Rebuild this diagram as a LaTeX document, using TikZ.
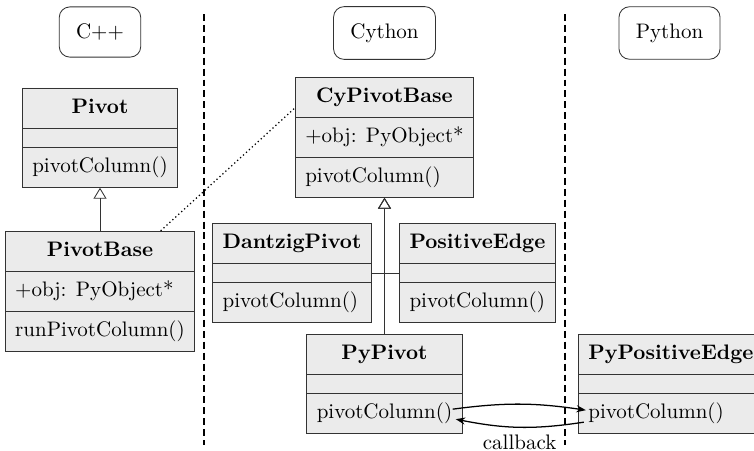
\documentclass[tikz,border=0pt]{standalone}
\usepackage{tikz}
\usetikzlibrary{arrows.meta, positioning, shapes.multipart, calc}
\definecolor{classfill}{HTML}{EBEBEB}
\definecolor{classborder}{HTML}{333333}
\newcommand{\rowstrut}{\rule[-2.5pt]{0pt}{10pt}}
\newcommand{\norow}{\rule{1pt}{0pt}}

\begin{document}
\begin{tikzpicture}[x=0.476pt, y=-0.476pt,
		langbox/.style={draw=classborder, rounded corners=5pt, inner sep=8pt},
		umlclass/.style={draw=classborder, fill=classfill,
			rectangle split, rectangle split parts=3,
			rectangle split part align={center, left, left},
			inner xsep=4.8pt, inner ysep=4.35pt},
		inherit/.style={-{Triangle[open, length=5.2pt, width=6.2pt]}, classborder},
		callarr/.style={-{Stealth[length=4.5pt]}, semithick},
		layer/.style={thick, dash pattern=on 3.3pt off 1.9pt},
		wrap/.style={line width=0.6pt, dash pattern=on 0.6pt off 1.3pt},
		]
		\useasboundingbox (0,0) rectangle (754,450);

		% Language headers
		\node[langbox] (cpp) at (100,32) {C++};
		\node[langbox] (cython) at (384.5,33) {Cython};
		\node[langbox] (python) at (669.5,33) {Python};

		% Layer separators
		\draw[layer] (204,14) -- (204,445);
		\draw[layer] (565,14) -- (565,445);

		% C++ classes
		\node[umlclass, below=14.3pt of cpp] (Pivot)
		{\textbf{Pivot}\rowstrut\nodepart{two}\norow\nodepart{three}pivotColumn()\rowstrut};
		\node[umlclass, below=20.5pt of Pivot] (PivotBase)
		{\textbf{PivotBase}\rowstrut\nodepart{two}+obj: PyObject*\rowstrut
			\nodepart{three}runPivotColumn()\rowstrut};

		% Cython classes
		\node[umlclass, below=8pt of cython] (CyPivotBase)
		{\textbf{CyPivotBase}\rowstrut\nodepart{two}+obj: PyObject*\rowstrut
			\nodepart{three}pivotColumn()\rowstrut};
		\node[umlclass, below left=11.9pt and 6pt of CyPivotBase.south] (DantzigPivot)
		{\textbf{DantzigPivot}\rowstrut\nodepart{two}\norow\nodepart{three}pivotColumn()\rowstrut};
		\node[umlclass, below right=11.9pt and 6.9pt of CyPivotBase.south] (PositiveEdge)
		{\textbf{PositiveEdge}\rowstrut\nodepart{two}\norow\nodepart{three}pivotColumn()\rowstrut};
		\node[umlclass, below=64.8pt of CyPivotBase] (PyPivot)
		{\textbf{PyPivot}\rowstrut\nodepart{two}\norow\nodepart{three}pivotColumn()\rowstrut};

		% Python class
		\node[umlclass, right=54.8pt of PyPivot] (PyPositiveEdge)
		{\textbf{PyPositiveEdge}\rowstrut\nodepart{two}\norow\nodepart{three}pivotColumn()\rowstrut};

		% Inheritance
		\draw[inherit] (PivotBase) -- (Pivot);
		\draw[inherit] (PyPivot) -- (CyPivotBase);
		\draw[inherit] (DantzigPivot.east) -| (CyPivotBase.south);
		\draw[inherit] (PositiveEdge.west) -| (CyPivotBase.south);

		% Wrapper link
		\draw[wrap] (PivotBase.45) -- (CyPivotBase.162);

		% Callback
		\coordinate (ppOut) at ([shift={(-10,-25)}]PyPivot.south east);
		\coordinate (ppIn) at ([shift={(-7,-15)}]PyPivot.south east);
		\coordinate (pqIn) at ([shift={(8,-24)}]PyPositiveEdge.south west);
		\coordinate (pqOut) at ([shift={(6,-12)}]PyPositiveEdge.south west);
		\draw[callarr] (ppOut) to[bend left=8] (pqIn);
		\draw[callarr] (pqOut) to[bend left=10]
		node[below, inner sep=1pt, yshift=-2.3pt] (cbLabel) {callback} (ppIn);
	\end{tikzpicture}
\end{document}
